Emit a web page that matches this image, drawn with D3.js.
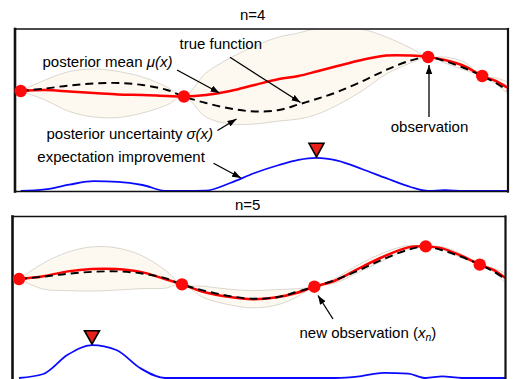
<!DOCTYPE html>
<html>
<head>
<meta charset="utf-8">
<script src="https://cdn.jsdelivr.net/npm/d3@7"></script>
<style>
  html, body { margin: 0; padding: 0; background: #fff; }
  svg { display: block; font-family: "Liberation Sans", Arial, sans-serif; }
</style>
</head>
<body>
<svg id="chart" width="516" height="379"></svg>
<script>
// Input locations shared by every series (unit interval)
const xGrid = [0, 0.05, 0.1, 0.15, 0.2, 0.25, 0.3, 0.335, 0.38, 0.43, 0.48, 0.53,
               0.57, 0.607, 0.65, 0.7, 0.75, 0.8, 0.836, 0.87, 0.91, 0.947, 0.975, 1];

// Objective being optimised
const trueF = [-0.22, -0.17, -0.11, -0.07, -0.06, -0.10, -0.20, -0.33, -0.46, -0.57, -0.63, -0.60,
               -0.49, -0.38, -0.24, -0.03, 0.20, 0.39, 0.46, 0.38, 0.24, 0.08, -0.06, -0.22];

// Observations made so far, plus the one chosen by the acquisition step
const obsX = [0, 0.335, 0.836, 0.947];
const obsY = [-0.22, -0.33, 0.46, 0.08];
const newObsX = 0.607;
const newObsY = -0.38;

// Posterior after four observations
const meanN4 = [-0.22, -0.20, -0.23, -0.26, -0.29, -0.30, -0.32, -0.33, -0.30, -0.22, -0.10, 0.02,
                0.08, 0.17, 0.28, 0.40, 0.49, 0.49, 0.46, 0.40, 0.28, 0.08, -0.02, -0.16];
const sigmaN4 = [0, 0.20, 0.40, 0.48, 0.46, 0.36, 0.18, 0, 0.44, 0.66, 0.78, 0.84,
                 0.86, 0.86, 0.78, 0.62, 0.37, 0.15, 0, 0.06, 0.08, 0, 0.06, 0.12];
const eiN4 = [0, 0.04, 0.16, 0.245, 0.23, 0.15, 0, 0, 0.01, 0.20, 0.45, 0.65,
              0.78, 0.83, 0.76, 0.55, 0.32, 0.10, 0, 0.02, 0, 0, 0, 0];

// Posterior after five observations
const meanN5 = [-0.22, -0.16, -0.06, -0.01, -0.01, -0.07, -0.22, -0.33, -0.49, -0.59, -0.64, -0.60,
                -0.51, -0.38, -0.25, 0.01, 0.25, 0.44, 0.46, 0.42, 0.26, 0.08, -0.03, -0.20];
const sigmaN5 = [0, 0.27, 0.40, 0.46, 0.44, 0.35, 0.19, 0, 0.12, 0.16, 0.18, 0.16,
                 0.09, 0, 0.05, 0.08, 0.08, 0.04, 0, 0.03, 0.04, 0, 0.04, 0.10];
const eiN5 = [0, 0.10, 0.58, 0.82, 0.70, 0.24, 0, 0, 0, 0, 0, 0,
              0, 0, 0, 0.04, 0.13, 0.11, 0, 0.04, 0, 0, 0, 0];

const panelTitles = ["n=4", "n=5"];

const svg = d3.select("#chart");
const defs = svg.append("defs");

defs.append("marker")
  .attr("id", "arrow")
  .attr("viewBox", "0 -4 10 8")
  .attr("refX", 10).attr("refY", 0)
  .attr("markerUnits", "userSpaceOnUse")
  .attr("markerWidth", 9).attr("markerHeight", 7.5)
  .attr("orient", "auto")
  .append("path")
  .attr("d", "M0,-3.6L10,0L0,3.6Z")
  .attr("fill", "#000");

const panels = [
  {
    title: panelTitles[0], titleX: 240, titleY: 19.5,
    mean: meanN4, sigma: sigmaN4, ei: eiN4,
    ox: obsX, oy: obsY,
    box: { x0: 15, x1: 508, y0: 29, y1: 191.5 },
    x: d3.scaleLinear().domain([0, 1]).range([20.7, 508]),
    y: d3.scaleLinear().domain([-1, 1]).range([130, 30]),
    eiY: d3.scaleLinear().domain([0, 1]).range([191, 151])
  },
  {
    title: panelTitles[1], titleX: 235, titleY: 210,
    mean: meanN5, sigma: sigmaN5, ei: eiN5,
    ox: obsX.concat([newObsX]), oy: obsY.concat([newObsY]),
    box: { x0: 12.5, x1: 505.5, y0: 216.5, y1: 381 },
    x: d3.scaleLinear().domain([0, 1]).range([19, 505.5]),
    y: d3.scaleLinear().domain([-1, 1]).range([316.5, 220.5]),
    eiY: d3.scaleLinear().domain([0, 1]).range([378, 338])
  }
];

const smooth = d3.curveCatmullRom.alpha(0.5);

panels.forEach((p, pi) => {
  const g = svg.append("g");
  const clipId = "clip" + pi;
  defs.append("clipPath").attr("id", clipId)
    .append("rect")
    .attr("x", p.box.x0).attr("y", p.box.y0)
    .attr("width", p.box.x1 - p.box.x0).attr("height", p.box.y1 - p.box.y0);

  g.append("text")
    .attr("x", p.titleX).attr("y", p.titleY)
    .attr("font-size", 15).attr("fill", "#000")
    .text(p.title);

  const plot = g.append("g").attr("clip-path", `url(#${clipId})`);
  const idx = d3.range(xGrid.length);

  // posterior uncertainty band (mean ± sigma)
  const band = d3.area()
    .x(i => p.x(xGrid[i]))
    .y0(i => p.y(p.mean[i] - p.sigma[i]))
    .y1(i => p.y(p.mean[i] + p.sigma[i]))
    .curve(smooth);
  plot.append("path").attr("d", band(idx))
    .attr("fill", "#fdf9f1").attr("stroke", "none");
  [-1, 1].forEach(s => {
    const edge = d3.line()
      .x(i => p.x(xGrid[i]))
      .y(i => p.y(p.mean[i] + s * p.sigma[i]))
      .curve(smooth);
    plot.append("path").attr("d", edge(idx))
      .attr("fill", "none").attr("stroke", "#d6d2cb").attr("stroke-width", 0.9);
  });

  // posterior mean
  const meanLine = d3.line().x(i => p.x(xGrid[i])).y(i => p.y(p.mean[i])).curve(smooth);
  plot.append("path").attr("d", meanLine(idx))
    .attr("fill", "none").attr("stroke", "#ff0000").attr("stroke-width", 2.5);

  // true function
  const trueLine = d3.line().x(i => p.x(xGrid[i])).y(i => p.y(trueF[i])).curve(smooth);
  plot.append("path").attr("d", trueLine(idx))
    .attr("fill", "none").attr("stroke", "#000").attr("stroke-width", 1.9)
    .attr("stroke-dasharray", "8,5");

  // expected improvement
  const eiLine = d3.line().x(i => p.x(xGrid[i])).y(i => p.eiY(p.ei[i])).curve(d3.curveMonotoneX);
  plot.append("path").attr("d", eiLine(idx))
    .attr("fill", "none").attr("stroke", "#0a0aff").attr("stroke-width", 1.8);

  // frame
  const b = p.box;
  const frame = [
    [b.x0, b.y0, b.x0, b.y1, 2.6],
    [b.x1, b.y0, b.x1, b.y1, 2.2],
    [b.x0, b.y0, b.x1, b.y0, 1.3],
    [b.x0, b.y1, b.x1, b.y1, 1.7]
  ];
  g.selectAll("line.frame").data(frame).enter().append("line")
    .attr("class", "frame")
    .attr("x1", d => d[0]).attr("y1", d => d[1])
    .attr("x2", d => d[2]).attr("y2", d => d[3])
    .attr("stroke", "#111").attr("stroke-width", d => d[4])
    .attr("stroke-linecap", "square");

  // observations
  g.selectAll("circle.obs").data(p.ox.map((xv, i) => [xv, p.oy[i]])).enter()
    .append("circle").attr("class", "obs")
    .attr("cx", d => p.x(d[0])).attr("cy", d => p.y(d[1]))
    .attr("r", 6.2).attr("fill", "#ff0a0a");

  // marker at the maximiser of expected improvement
  const best = d3.maxIndex(p.ei);
  const tx = p.x(xGrid[best]), ty = p.eiY(p.ei[best]) - 1;
  g.append("path")
    .attr("d", `M${tx - 7.5},${ty - 13.5}L${tx + 7.5},${ty - 13.5}L${tx},${ty}Z`)
    .attr("fill", "#e8201a").attr("stroke", "#000").attr("stroke-width", 1.6)
    .attr("stroke-linejoin", "miter");
});

// annotations
const ann = svg.append("g").attr("font-size", 15).attr("fill", "#000");

function label(x, y, parts) {
  const t = ann.append("text").attr("x", x).attr("y", y);
  parts.forEach(pt => {
    const s = t.append("tspan").text(pt.t);
    if (pt.i) s.attr("font-style", "italic");
    if (pt.sub) s.attr("font-size", 10.5).attr("dy", 3);
    if (pt.up) s.attr("dy", -3);
  });
  return t;
}
function arrow(x1, y1, x2, y2) {
  ann.append("line")
    .attr("x1", x1).attr("y1", y1).attr("x2", x2).attr("y2", y2)
    .attr("stroke", "#000").attr("stroke-width", 1.3)
    .attr("marker-end", "url(#arrow)");
}

label(42.5, 66.5, [{ t: "posterior mean " }, { t: "μ(x)", i: true }]);
arrow(177, 70, 219.5, 93);

label(179.5, 49.3, [{ t: "true function" }]);
arrow(230, 57.3, 300.5, 102.5);

label(46.5, 139.3, [{ t: "posterior uncertainty " }, { t: "σ(x)", i: true }]);
arrow(217.5, 130.5, 236.5, 119);

label(37.3, 162.3, [{ t: "expectation improvement" }]);
arrow(213.5, 163.3, 241, 178);

label(429.5, 132, [{ t: "observation" }]).attr("text-anchor", "middle");
arrow(429, 117, 429, 65);

label(299.5, 338, [{ t: "new observation (" }, { t: "x", i: true }, { t: "n", i: true, sub: true },
                   { t: ")", up: true }]);
arrow(333, 319, 318, 295.5);
</script>
</body>
</html>
